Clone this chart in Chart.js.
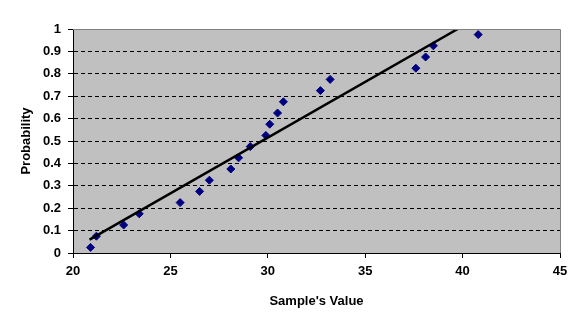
<!DOCTYPE html>
<html>
<head>
<meta charset="utf-8">
<script src="https://cdn.jsdelivr.net/npm/chart.js@4/dist/chart.umd.min.js"></script>
<style>
  html, body { margin: 0; padding: 0; background: #ffffff; }
  #wrap { width: 584px; height: 330px; }
</style>
</head>
<body>
<div id="wrap"><canvas id="probChart"></canvas></div>
<script>
// sample values (x) and their plotting probabilities (y)
const sampleValues = [20.9, 21.2, 22.6, 23.4, 25.5, 26.5, 27.0, 28.1, 28.5, 29.1,
                      29.9, 30.1, 30.5, 30.8, 32.7, 33.2, 37.6, 38.1, 38.5, 40.8];
const probabilities = [0.025, 0.075, 0.125, 0.175, 0.225, 0.275, 0.325, 0.375, 0.425, 0.475,
                       0.525, 0.575, 0.625, 0.675, 0.725, 0.775, 0.825, 0.875, 0.925, 0.975];

// fitted line end points
const fitX = [20.85, 39.75];
const fitY = [0.06, 1.0];

const xTicks = [20, 25, 30, 35, 40, 45];
const yTicks = [0, 0.1, 0.2, 0.3, 0.4, 0.5, 0.6, 0.7, 0.8, 0.9, 1];

const tickFont = { family: "Liberation Sans", size: 13, weight: "bold" };

const plotBackground = {
  id: "plotBackground",
  beforeDraw(chart) {
    const { ctx, chartArea: a } = chart;
    ctx.save();
    ctx.fillStyle = "#c0c0c0";
    ctx.fillRect(a.left, a.top, a.right - a.left, a.bottom - a.top);
    ctx.restore();
  },
  afterDraw(chart) {
    const { ctx, chartArea: a } = chart;
    ctx.save();
    ctx.strokeStyle = "#808080";
    ctx.lineWidth = 1;
    ctx.beginPath();
    ctx.moveTo(a.left, a.top + 0.5);
    ctx.lineTo(a.right + 0.5, a.top + 0.5);
    ctx.lineTo(a.right + 0.5, a.bottom);
    ctx.stroke();
    ctx.restore();
  }
};

new Chart(document.getElementById("probChart"), {
  type: "scatter",
  data: {
    datasets: [
      {
        label: "Samples",
        data: sampleValues.map((v, i) => ({ x: v, y: probabilities[i] })),
        pointStyle: "rectRot",
        pointRadius: 4,
        pointBackgroundColor: "#000080",
        pointBorderColor: "#000080",
        pointBorderWidth: 1,
        order: 2
      },
      {
        type: "line",
        label: "Fit",
        data: fitX.map((v, i) => ({ x: v, y: fitY[i] })),
        borderColor: "#000000",
        borderWidth: 2.5,
        pointRadius: 0,
        fill: false,
        order: 1
      }
    ]
  },
  options: {
    responsive: true,
    maintainAspectRatio: false,
    animation: false,
    layout: { padding: { top: 29, right: 24, left: 0, bottom: 0 } },
    plugins: {
      legend: { display: false },
      tooltip: { enabled: false }
    },
    scales: {
      x: {
        type: "linear",
        min: 20,
        max: 45,
        afterBuildTicks: (scale) => { scale.ticks = xTicks.map(v => ({ value: v })); },
        afterFit: (scale) => { scale.height = 77; },
        grid: { drawOnChartArea: false, tickLength: 5, tickColor: "#000000" },
        border: { color: "#000000", width: 1 },
        ticks: { color: "#000000", font: tickFont, padding: 6, maxRotation: 0 },
        title: {
          display: true,
          text: "Sample's Value",
          color: "#000000",
          font: tickFont,
          padding: { top: 21, bottom: 21 }
        }
      },
      y: {
        type: "linear",
        min: 0,
        max: 1,
        afterBuildTicks: (scale) => { scale.ticks = yTicks.map(v => ({ value: v })); },
        afterFit: (scale) => { scale.width = 73; },
        grid: {
          color: (ctx) => (ctx.tick && (ctx.tick.value === 0 || ctx.tick.value === 1)) ? "rgba(0,0,0,0)" : "#000000",
          tickColor: "#000000",
          tickLength: 5,
          lineWidth: 1
        },
        border: { color: "#000000", width: 1, dash: [4, 3] },
        ticks: {
          color: "#000000",
          font: tickFont,
          padding: 7,
          callback: (v) => String(Math.round(v * 10) / 10)
        },
        title: {
          display: true,
          text: "Probability",
          color: "#000000",
          font: tickFont,
          padding: { top: 19, bottom: 19 }
        }
      }
    }
  },
  plugins: [plotBackground]
});
</script>
</body>
</html>
